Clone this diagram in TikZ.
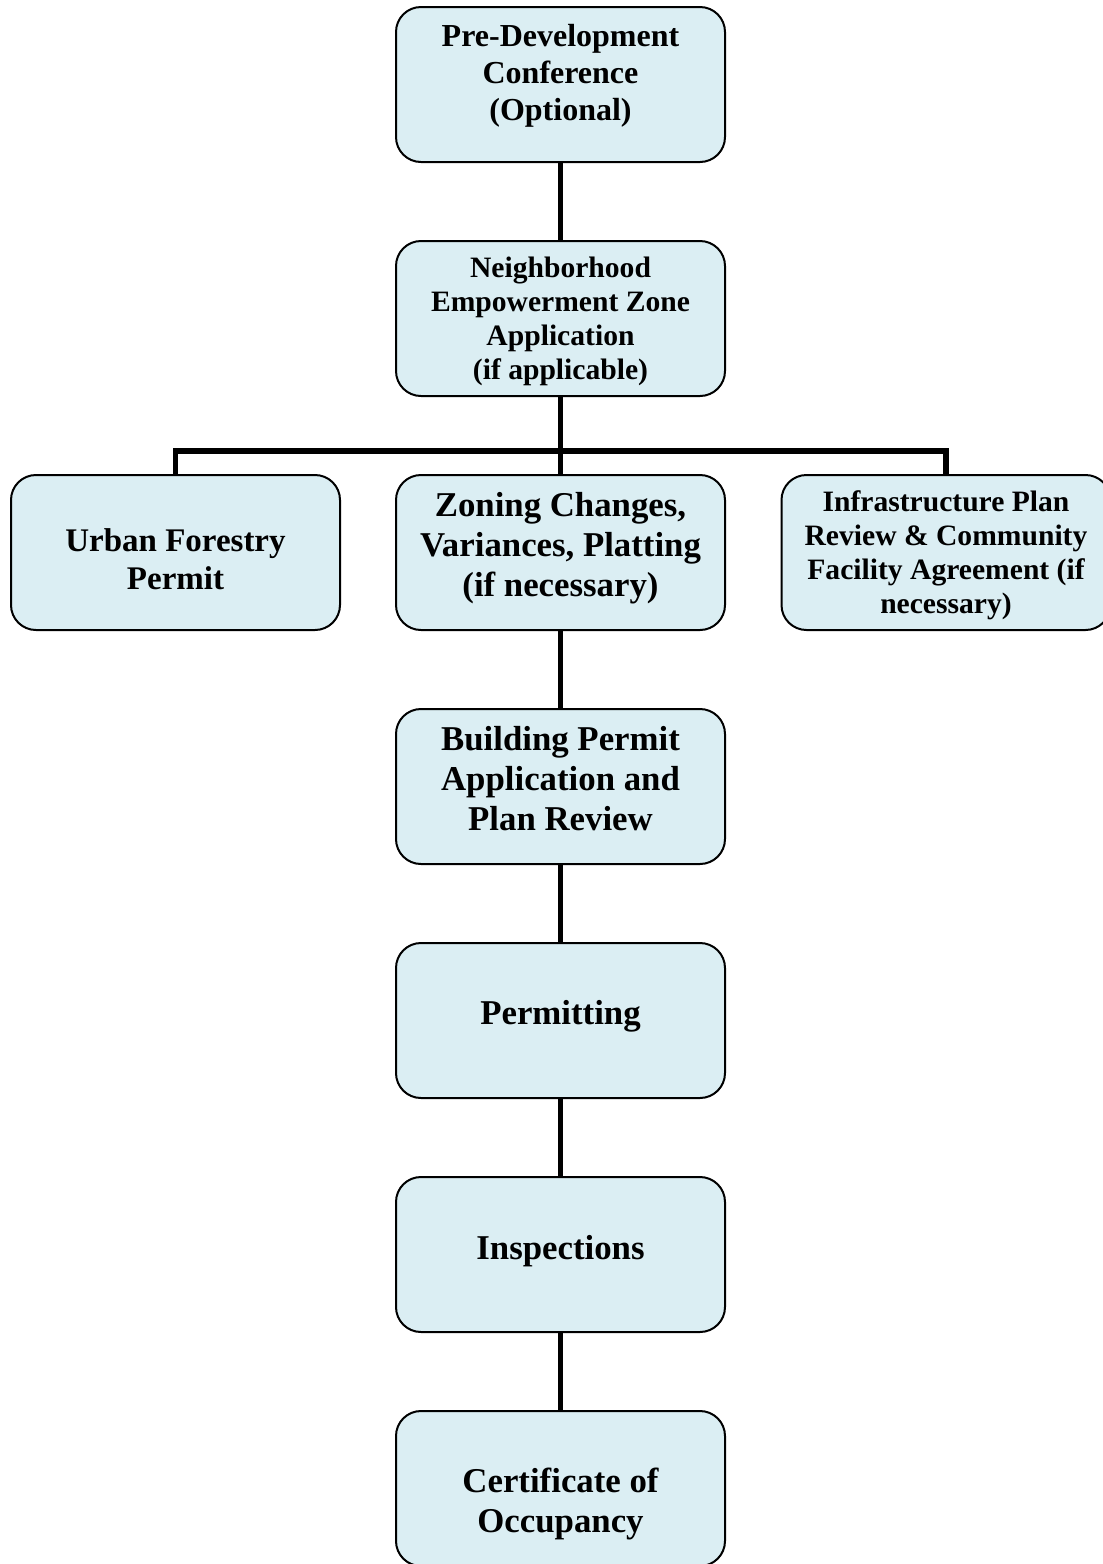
\documentclass[tikz,border=0pt]{standalone}
\usepackage{fontspec}
\setmainfont{Liberation Serif}
\begin{document}
\begin{tikzpicture}[x=0.5pt,y=-0.5pt,
  box/.style={draw=black,line width=1pt,fill=boxfill,rounded corners=12.5pt,
    minimum width=164.5pt,minimum height=77.5pt,inner sep=0pt},
  txt/.style={align=center,inner sep=0pt},
  link/.style={line width=2.8pt}]
\definecolor{boxfill}{HTML}{DBEEF3}
\useasboundingbox (0,0) rectangle (1103,1564);
\node[box] (pre) at (560.5,84.5) {};
\node[box] (nez) at (560.5,318.5) {};
\node[box] (zon) at (560.5,552.5) {};
\node[box] (urb) at (175.5,552.5) {};
\node[box] (inf) at (946,552.5) {};
\node[box] (bld) at (560.5,786.5) {};
\node[box] (prm) at (560.5,1020.5) {};
\node[box] (ins) at (560.5,1254.5) {};
\node[box] (cert) at (560.5,1488.5) {};
\node[txt,font=\bfseries\fontsize{16}{18.5}\selectfont] (preT) at (560.5,75.5) {Pre-Development\\Conference\\(Optional)};
\node[txt,font=\bfseries\fontsize{14.8}{17}\selectfont] (nezT) at (560.5,321.5) {Neighborhood\\Empowerment Zone\\Application\\(if applicable)};
\node[txt,font=\bfseries\fontsize{17.4}{20}\selectfont] (zonT) at (560.5,548.5) {Zoning Changes,\\Variances, Platting\\(if necessary)};
\node[txt,font=\bfseries\fontsize{16.5}{19}\selectfont] (urbT) at (175.5,559.5) {Urban Forestry\\Permit};
\node[txt,font=\bfseries\fontsize{14.8}{17}\selectfont] (infT) at (946,555.5) {Infrastructure Plan\\Review \& Community\\Facility Agreement (if\\necessary)};
\node[txt,font=\bfseries\fontsize{17.4}{20}\selectfont] (bldT) at (560.5,778.5) {Building Permit\\Application and\\Plan Review};
\node[txt,font=\bfseries\fontsize{17.4}{20}\selectfont] (prmT) at (560.5,1016.5) {Permitting};
\node[txt,font=\bfseries\fontsize{17.4}{20}\selectfont] (insT) at (560.5,1251.5) {Inspections};
\node[txt,font=\bfseries\fontsize{17.4}{20}\selectfont] (certT) at (560.5,1503.5) {Certificate of\\Occupancy};
\coordinate (bus) at (560.5,451);
\draw[link] (pre) -- (nez);
\draw[link] (nez) -- (zon);
\draw[link] (urb.north) |- (bus) -| (inf.north);
\draw[link] (zon) -- (bld);
\draw[link] (bld) -- (prm);
\draw[link] (prm) -- (ins);
\draw[link] (ins) -- (cert);
\end{tikzpicture}
\end{document}
